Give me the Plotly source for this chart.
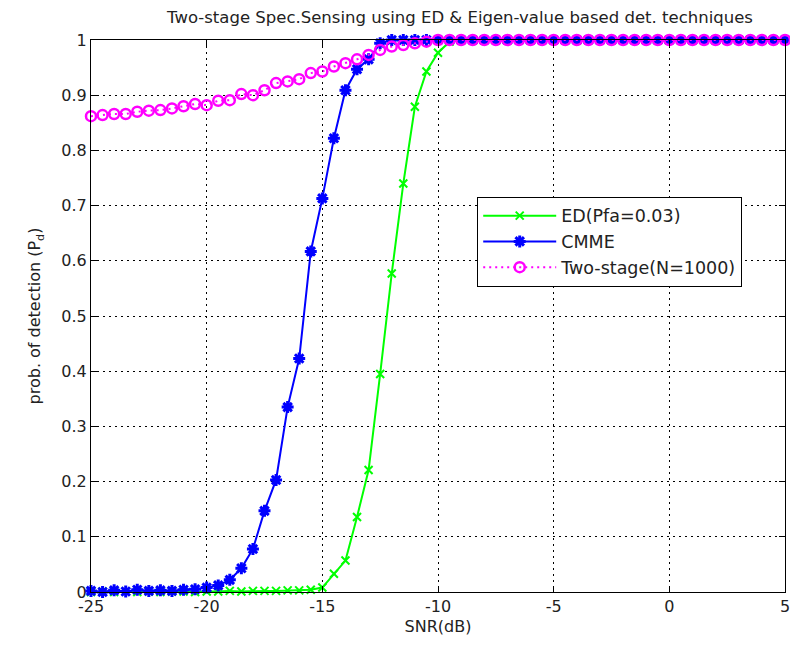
import numpy as np
import plotly.graph_objects as go

snr = [-25 + 0.5 * i for i in range(61)]

ed = [0.0, 0.001, 0.0, 0.001, 0.0, 0.001, 0.0, 0.001, 0.001, 0.0,
      0.001, 0.001, 0.002, 0.001, 0.002, 0.002, 0.002, 0.003, 0.003, 0.004,
      0.008, 0.033, 0.057, 0.136, 0.221, 0.395, 0.577, 0.74, 0.879, 0.943,
      0.977, 0.997] + [1.0] * 29

cmme = [0.002, 0.0, 0.003, 0.001, 0.004, 0.002, 0.003, 0.002, 0.004, 0.005,
        0.008, 0.012, 0.022, 0.043, 0.078, 0.147, 0.203, 0.335, 0.423, 0.617,
        0.713, 0.822, 0.909, 0.947, 0.965, 0.994] + [1.0] * 35

two_stage = [0.862, 0.864, 0.866, 0.866, 0.870, 0.872, 0.873, 0.876, 0.880, 0.884,
             0.882, 0.890, 0.891, 0.902, 0.900, 0.909, 0.922, 0.925, 0.929, 0.940,
             0.943, 0.952, 0.958, 0.965, 0.973, 0.982, 0.988, 0.991, 0.994, 0.997,
             1.0] + [1.0] * 30

x_ticks = [-25, -20, -15, -10, -5, 0, 5]
y_ticks = [0, 0.1, 0.2, 0.3, 0.4, 0.5, 0.6, 0.7, 0.8, 0.9, 1]

fig = go.Figure()
fig.add_trace(go.Scatter(
    x=snr, y=ed, mode="lines+markers", name="ED(Pfa=0.03)",
    line=dict(color="rgb(0,255,0)", width=2),
    marker=dict(symbol="x-thin-open", size=8, line=dict(color="rgb(0,255,0)", width=2)),
    cliponaxis=False))
fig.add_trace(go.Scatter(
    x=snr, y=cmme, mode="lines+markers", name="CMME",
    line=dict(color="rgb(0,0,255)", width=2),
    marker=dict(symbol="asterisk-open", size=10, line=dict(color="rgb(0,0,255)", width=3)),
    cliponaxis=False))
fig.add_trace(go.Scatter(
    x=snr, y=two_stage, mode="lines+markers", name="Two-stage(N=1000)",
    line=dict(color="rgb(255,0,255)", width=2, dash="2px,4px"),
    marker=dict(symbol="circle-open", size=10, line=dict(color="rgb(255,0,255)", width=2.5)),
    cliponaxis=False))

font_family = "DejaVu Sans, Arial, sans-serif"
axis_common = dict(
    showline=True, linecolor="black", linewidth=1, mirror="ticks",
    ticks="inside", ticklen=6, tickcolor="black",
    showgrid=True, gridcolor="black", gridwidth=1, griddash="2px,4px",
    zeroline=False, tickfont=dict(family=font_family, size=16, color="#222"),
    ticklabeloverflow="allow",
)

fig.update_layout(
    width=782, height=640,
    paper_bgcolor="white", plot_bgcolor="white",
    margin=dict(l=83, r=0, t=32, b=56),
    title=dict(text="Two-stage Spec.Sensing using ED & Eigen-value based det. techniques",
               x=0.578, xanchor="center", y=0.986, yanchor="middle",
               font=dict(family=font_family, size=16.5, color="#222")),
    xaxis=dict(range=[-25, 5], tickvals=x_ticks, ticktext=[str(v) for v in x_ticks],
               title=dict(text="SNR(dB)", font=dict(family=font_family, size=16, color="#222"), standoff=5),
               **axis_common),
    yaxis=dict(range=[0, 1], tickvals=y_ticks, ticktext=[("%g" % v) for v in y_ticks],
               title=dict(text="prob. of detection (P<sub>d</sub>)", font=dict(family=font_family, size=16, color="#222"), standoff=16),
               **axis_common),
    legend=dict(x=0.5565, y=0.716, xanchor="left", yanchor="top",
                bgcolor="white", bordercolor="black", borderwidth=1,
                font=dict(family=font_family, size=17.5, color="#222"),
                itemwidth=73, tracegroupgap=0),
    showlegend=True,
)

fig.write_html("out.html")
